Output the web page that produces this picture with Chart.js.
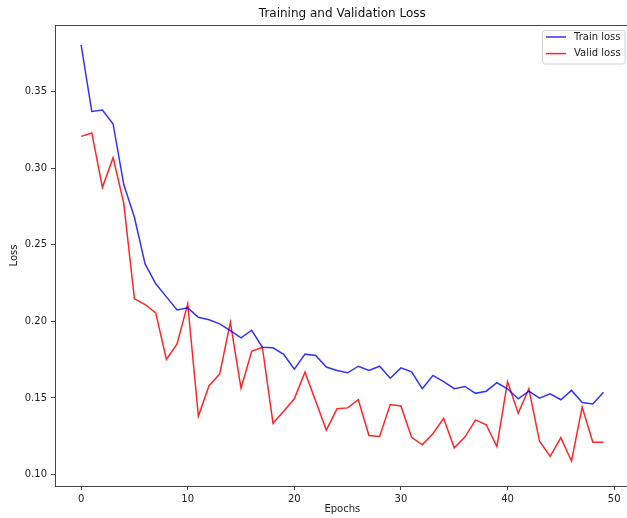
<!DOCTYPE html>
<html>
<head>
<meta charset="utf-8">
<script src="https://cdn.jsdelivr.net/npm/chart.js@4.4.1/dist/chart.umd.min.js"></script>
<style>
  html, body { margin: 0; padding: 0; overflow: hidden; background: #fff; }
  #wrap { width: 632px; height: 518px; position: relative; }
</style>
</head>
<body>
<div id="wrap"><canvas id="lossChart"></canvas></div>
<script>
// values
const epochs = [0, 1, 2, 3, 4, 5, 6, 7, 8, 9, 10, 11, 12, 13, 14, 15, 16, 17, 18, 19,
  20, 21, 22, 23, 24, 25, 26, 27, 28, 29, 30, 31, 32, 33, 34, 35, 36, 37, 38, 39,
  40, 41, 42, 43, 44, 45, 46, 47, 48, 49];

const trainLoss = [0.3805, 0.3371, 0.3380, 0.3289, 0.2893, 0.2680, 0.2375, 0.2245, 0.2160, 0.2075,
  0.2088, 0.2027, 0.2010, 0.1984, 0.1940, 0.1892, 0.1942, 0.1831, 0.1827, 0.1785,
  0.1688, 0.1786, 0.1777, 0.1702, 0.1679, 0.1664, 0.1707, 0.1679, 0.1707, 0.1629,
  0.1696, 0.1670, 0.1560, 0.1647, 0.1607, 0.1560, 0.1575, 0.1530, 0.1544, 0.1599,
  0.1560, 0.1494, 0.1544, 0.1498, 0.1527, 0.1488, 0.1549, 0.1470, 0.1461, 0.1537];

const validLoss = [0.3208, 0.3230, 0.2875, 0.3069, 0.2770, 0.2147, 0.2110, 0.2055, 0.1752, 0.1853,
  0.2114, 0.1380, 0.1580, 0.1657, 0.1994, 0.1563, 0.1805, 0.1831, 0.1335, 0.1413,
  0.1494, 0.1668, 0.1480, 0.1290, 0.1429, 0.1435, 0.1488, 0.1255, 0.1248, 0.1457,
  0.1448, 0.1243, 0.1194, 0.1266, 0.1367, 0.1174, 0.1244, 0.1357, 0.1325, 0.1183,
  0.1607, 0.1400, 0.1560, 0.1217, 0.1118, 0.1240, 0.1087, 0.1440, 0.1211, 0.1211];

const xTicks = [0, 10, 20, 30, 40, 50];
const yTicks = [0.10, 0.15, 0.20, 0.25, 0.30, 0.35];

const spineColor = "#444";

Chart.defaults.font.family = "'DejaVu Sans', sans-serif";
Chart.defaults.font.size = 10;
Chart.defaults.color = "#222";

// matplotlib style box round the axes
const framePlugin = {
  id: "frame",
  afterDraw(chart) {
    const { ctx, chartArea: a } = chart;
    ctx.save();
    ctx.strokeStyle = spineColor;
    ctx.lineWidth = 1;
    ctx.strokeRect(Math.round(a.left) + 0.5, Math.round(a.top) + 0.5,
      Math.round(a.right - a.left), Math.round(a.bottom - a.top));
    ctx.restore();
  }
};

// legend in the upper right corner, inside the axes
const boxLegend = {
  id: "boxLegend",
  afterDatasetsDraw(chart) {
    const { ctx, chartArea: a } = chart;
    const sets = chart.data.datasets;
    ctx.save();
    ctx.font = "10px 'DejaVu Sans', sans-serif";
    let textW = 0;
    sets.forEach(ds => { textW = Math.max(textW, ctx.measureText(ds.label).width); });
    const w = 4 + 20 + 8 + textW + 4;
    const h = 33.5;
    const x = a.right - 5 - w;
    const y = a.top + 5;
    ctx.beginPath();
    ctx.roundRect(x + 0.5, y + 0.5, w, h, 2.5);
    ctx.fillStyle = "rgba(255,255,255,0.8)";
    ctx.fill();
    ctx.strokeStyle = "#d0d0d0";
    ctx.lineWidth = 1;
    ctx.stroke();
    sets.forEach((ds, i) => {
      const cy = y + 7 + i * 16.6;
      ctx.beginPath();
      ctx.moveTo(x + 4, cy);
      ctx.lineTo(x + 24, cy);
      ctx.strokeStyle = ds.borderColor;
      ctx.lineWidth = ds.borderWidth;
      ctx.stroke();
      ctx.fillStyle = "#222";
      ctx.textBaseline = "middle";
      ctx.fillText(ds.label, x + 32, cy);
    });
    ctx.restore();
  }
};

const lossChart = new Chart(document.getElementById("lossChart"), {
  type: "line",
  data: {
    datasets: [
      {
        label: "Train loss",
        data: epochs.map((e, i) => ({ x: e, y: trainLoss[i] })),
        borderColor: "rgba(0,0,255,0.8)",
        borderWidth: 1.5,
        pointRadius: 0,
        tension: 0,
        fill: false
      },
      {
        label: "Valid loss",
        data: epochs.map((e, i) => ({ x: e, y: validLoss[i] })),
        borderColor: "rgba(255,0,0,0.85)",
        borderWidth: 1.5,
        pointRadius: 0,
        tension: 0,
        fill: false
      }
    ]
  },
  options: {
    responsive: true,
    maintainAspectRatio: false,
    animation: false,
    layout: { padding: { left: 0, right: 2.4, top: 0, bottom: 0 } },
    plugins: {
      legend: { display: false },
      tooltip: { enabled: false },
      title: {
        display: true,
        text: "Training and Validation Loss",
        fullSize: false,
        color: "#111",
        font: { size: 12, weight: "normal" },
        padding: { top: 6.8, bottom: 3.8 }
      }
    },
    scales: {
      x: {
        type: "linear",
        min: -2.45,
        max: 51.45,
        afterBuildTicks: s => { s.ticks = xTicks.map(v => ({ value: v })); },
        afterFit: s => { s.height = 32; },
        ticks: { padding: 3, maxRotation: 0 },
        grid: { display: true, drawOnChartArea: false, drawTicks: true, tickLength: 4, tickColor: spineColor },
        border: { display: false },
        title: { display: true, text: "Epochs", padding: { top: 0, bottom: 3 } }
      },
      y: {
        type: "linear",
        min: 0.0925,
        max: 0.3935,
        afterBuildTicks: s => { s.ticks = yTicks.map(v => ({ value: v })); },
        afterFit: s => { s.width = 55; },
        ticks: { padding: 4, callback: v => v.toFixed(2) },
        grid: { display: true, drawOnChartArea: false, drawTicks: true, tickLength: 4, tickColor: spineColor },
        border: { display: false },
        title: { display: true, text: "Loss", padding: { top: 8, bottom: 0 } }
      }
    }
  },
  plugins: [framePlugin, boxLegend]
});
</script>
</body>
</html>
